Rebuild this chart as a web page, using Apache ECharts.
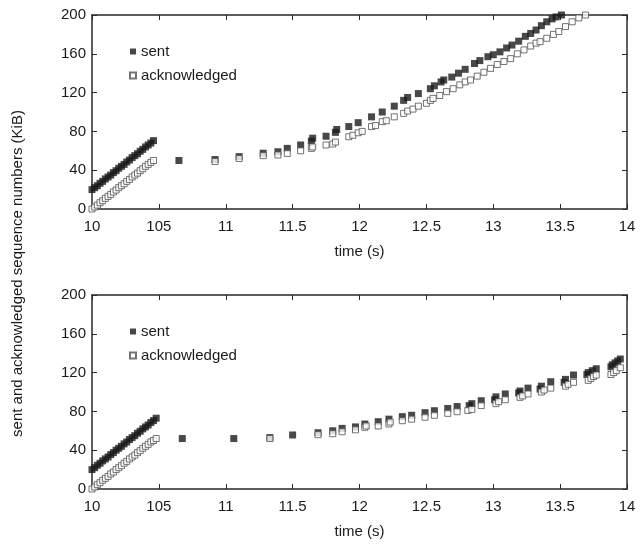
<!DOCTYPE html>
<html><head><meta charset="utf-8">
<script src="https://cdn.jsdelivr.net/npm/echarts@6/dist/echarts.min.js"></script>
<style>html,body{margin:0;padding:0;background:#fff}#c{width:642px;height:547px}</style>
</head><body><div id="c"></div>
<script>
// x tick labels (as printed in the original)
const xTickLabels = {"10":"10","10.5":"105","11":"11","11.5":"11.5","12":"12","12.5":"12.5","13":"13","13.5":"13.5","14":"14"};
const yTicks = [0,40,80,120,160,200];

// dense start (time s)
const denseTimesTop = [10.00,10.02,10.04,10.06,10.08,10.10,10.12,10.14,10.16,10.18,10.20,10.22,10.24,10.26,10.28,10.30,10.32,10.34,10.36,10.38,10.40,10.42,10.44,10.46];
const denseSentTop  = [20,22,24,26.5,28.5,31,33,35,37.5,39.5,42,44,46,48.5,50.5,53,55,57,59.5,61.5,64,66,68,70.5];
const denseAckTop   = [0,2,4,6.5,8.5,11,13,15,17.5,19.5,22,24,26,28.5,30.5,33,35,37,39.5,41.5,44,46,48,50];

const denseTimesBot = [10.00,10.02,10.04,10.06,10.08,10.10,10.12,10.14,10.16,10.18,10.20,10.22,10.24,10.26,10.28,10.30,10.32,10.34,10.36,10.38,10.40,10.42,10.44,10.46,10.48];
const denseSentBot  = [20,22,24.5,26.5,29,31,33,35.5,37.5,40,42,44,46.5,48.5,51,53,55,57.5,59.5,62,64,66,68.5,70.5,73];
const denseAckBot   = [0,2,4.5,6.5,9,11,13,15.5,17.5,20,22,24,26.5,28.5,31,33,35,37.5,39.5,42,44,46,48.5,50,52];

// later points [time, KiB]
const sentTop = [[10.65,50],[10.92,51],[11.10,54],[11.28,57.5],[11.39,59],[11.46,62.5],[11.56,66],[11.64,70],[11.65,73],[11.75,75],[11.82,79],[11.83,82],[11.92,85],[11.99,89],[12.09,95],[12.17,100],[12.26,106],[12.33,112],[12.36,115],[12.44,119],[12.53,124],[12.56,127],[12.61,131],[12.63,133],[12.69,136],[12.74,140],[12.79,144],[12.86,150],[12.90,153],[12.96,157],[13.00,159],[13.05,162],[13.10,166],[13.14,169],[13.19,173],[13.24,178],[13.28,181],[13.32,184.5],[13.36,189],[13.40,193],[13.44,196],[13.47,198],[13.51,200]];
const ackTop = [[10.92,49],[11.10,52],[11.28,55],[11.39,55.7],[11.46,57.3],[11.56,60],[11.64,62.5],[11.65,64],[11.75,66],[11.80,67],[11.82,69],[11.92,74.5],[11.95,76],[11.99,78.6],[12.02,80],[12.09,85],[12.12,86],[12.17,90],[12.20,91],[12.26,95],[12.33,98.6],[12.36,101],[12.40,103],[12.44,106],[12.50,109],[12.53,112],[12.55,114],[12.60,117],[12.65,121],[12.70,124],[12.75,128],[12.79,131],[12.83,133],[12.88,137],[12.93,141],[12.98,145],[13.03,149],[13.08,152],[13.13,155],[13.18,160],[13.23,164],[13.28,168],[13.32,171],[13.35,172.5],[13.40,176],[13.45,180],[13.49,183],[13.54,188],[13.59,193],[13.64,197],[13.69,200]];

const sentBot = [[10.675,52],[11.06,52],[11.33,53],[11.50,55.7],[11.69,58],[11.80,60],[11.87,62.5],[11.97,64],[12.04,67],[12.14,69.4],[12.22,72],[12.32,74.6],[12.39,76],[12.49,78.7],[12.56,80.7],[12.66,83],[12.73,85],[12.82,86],[12.84,88],[12.91,91],[13.01,92],[13.02,95],[13.09,98],[13.19,99],[13.20,101],[13.26,104],[13.35,103],[13.36,106],[13.43,110.6],[13.53,110],[13.54,113],[13.60,117.5],[13.70,118],[13.71,120],[13.74,122],[13.77,124],[13.88,126],[13.89,128],[13.91,130],[13.93,132],[13.95,134]];
const ackBot = [[11.33,52],[11.69,56],[11.80,57],[11.87,59],[11.97,61],[12.04,63.6],[12.05,65],[12.14,65],[12.22,67],[12.23,69],[12.32,70.4],[12.39,72],[12.49,74],[12.56,76],[12.66,78],[12.73,79.7],[12.81,81],[12.84,82],[12.91,86],[13.02,88],[13.04,90],[13.09,92],[13.20,94.5],[13.22,96],[13.26,98],[13.36,100],[13.38,102],[13.43,104],[13.54,106],[13.56,108],[13.60,110],[13.71,112],[13.73,114],[13.75,116],[13.77,117.5],[13.88,118],[13.90,120],[13.92,122],[13.95,125]];

function zip(t, v){ return t.map((x,i)=>[x, v[i]]); }

const FONT = 'Liberation Sans, Arial, sans-serif';
const TXT = '#1a1a1a';
const AX = '#2a2a2a';

function xAxes(gi){
  const common = {type:'value', min:10, max:14, interval:0.5, gridIndex:gi,
    axisLine:{show:true, onZero:false, lineStyle:{color:AX, width:1.5}},
    axisTick:{show:true, inside:true, length:5, lineStyle:{color:AX, width:1}},
    splitLine:{show:false}};
  return [
    Object.assign({}, common, {position:'bottom',
      axisLabel:{show:true, color:TXT, fontFamily:FONT, fontSize:15, margin:10,
        formatter:v=>xTickLabels[String(v)] ?? String(v)},
      name:'time (s)', nameLocation:'middle', nameGap:35,
      nameTextStyle:{color:TXT, fontFamily:FONT, fontSize:15}}),
    Object.assign({}, common, {position:'top', axisLabel:{show:false}})
  ];
}
function yAxes(gi){
  const common = {type:'value', min:0, max:200, interval:40, gridIndex:gi,
    axisLine:{show:true, onZero:false, lineStyle:{color:AX, width:1.5}},
    axisTick:{show:true, inside:true, length:5, lineStyle:{color:AX, width:1}},
    splitLine:{show:false}};
  return [
    Object.assign({}, common, {position:'left',
      axisLabel:{show:true, color:TXT, fontFamily:FONT, fontSize:15, margin:6}}),
    Object.assign({}, common, {position:'right', axisLabel:{show:false}})
  ];
}

const sentStyle = {symbol:'rect', symbolSize:7, itemStyle:{color:'#1a1a1a'}};
const ackStyle  = {symbol:'rect', symbolSize:6, itemStyle:{color:'#ffffff', borderColor:'#505050', borderWidth:1}};

function ser(name, data, xi, yi, style){
  return Object.assign({type:'scatter', name, data, xAxisIndex:xi, yAxisIndex:yi, clip:false, silent:true, animation:false}, style);
}

const option = {
  animation:false,
  backgroundColor:'#fff',
  grid:[
    {left:92, top:15, width:535, height:194},
    {left:92, top:295, width:535, height:194}
  ],
  xAxis:[...xAxes(0), ...xAxes(1)],
  yAxis:[...yAxes(0), ...yAxes(1)],
  legend:[
    {orient:'vertical', left:124, top:39, itemWidth:6, itemHeight:6, itemGap:9, selectedMode:false,
     textStyle:{color:TXT, fontFamily:FONT, fontSize:15}, data:['sent','acknowledged']},
    {orient:'vertical', left:124, top:319, itemWidth:6, itemHeight:6, itemGap:9, selectedMode:false,
     textStyle:{color:TXT, fontFamily:FONT, fontSize:15}, data:['sent','acknowledged']}
  ],
  graphic:[{type:'text', left:10, top:'center', rotation:Math.PI/2,
    style:{text:'sent and acknowledged sequence numbers (KiB)', fill:TXT, font:'15px '+FONT}}],
  series:[
    ser('sent', zip(denseTimesTop, denseSentTop).concat(sentTop), 0, 0, sentStyle),
    ser('acknowledged', zip(denseTimesTop, denseAckTop).concat(ackTop), 0, 0, ackStyle),
    ser('sent', zip(denseTimesBot, denseSentBot).concat(sentBot), 2, 2, sentStyle),
    ser('acknowledged', zip(denseTimesBot, denseAckBot).concat(ackBot), 2, 2, ackStyle)
  ]
};
const chart = echarts.init(document.getElementById('c'), null, {renderer:'canvas'});
chart.setOption(option);
</script></body></html>
